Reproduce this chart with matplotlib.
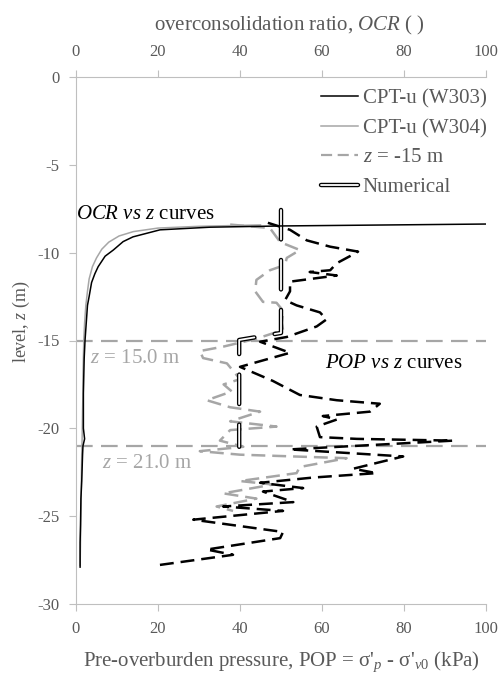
import matplotlib
matplotlib.use("Agg")
from matplotlib import pyplot as plt
from matplotlib.lines import Line2D
from matplotlib.legend_handler import HandlerTuple

plt.rcParams['font.family'] = 'Liberation Serif'
plt.rcParams['font.size'] = 15
plt.rcParams['mathtext.fontset'] = 'custom'
plt.rcParams['mathtext.rm'] = 'Liberation Serif'
plt.rcParams['mathtext.it'] = 'Liberation Serif:italic'
plt.rcParams['lines.scale_dashes'] = False
plt.rcParams['axes.unicode_minus'] = False

# OCR vs z (top axis)
ocr_w303 = [100, 49.8, 32.7, 20.5, 13.9, 11.5, 9.1, 7.1, 5.4, 4.6, 3.8, 3.2, 2.8, 2.5, 2.2,
            2.0, 1.9, 1.8, 1.8, 1.8, 2.1, 1.7, 1.6, 1.4, 1.2, 1.1, 1.0, 1.0]
z_ocr_w303 = [-8.37, -8.48, -8.55, -8.7, -9.1, -9.37, -9.85, -10.2, -10.8, -11.2, -11.7, -12.5, -13.0, -14.0, -15.0,
              -16.0, -17.0, -18.0, -19.0, -20.0, -20.6, -21.0, -21.5, -23.0, -24.0, -25.5, -26.5, -27.9]
ocr_w304 = [45, 30, 20, 14, 10.5, 8, 6.3, 5, 4, 3.2, 2.8, 2.4, 2.1, 1.9, 1.8, 1.7, 1.7, 1.6, 1.5, 1.4, 1.3, 1.2, 1.1, 1.0]
z_ocr_w304 = [-8.42, -8.5, -8.6, -8.8, -9.05, -9.4, -9.8, -10.3, -10.8, -11.5, -12.2, -13.0, -14.0, -15.0,
              -16.0, -17.0, -18.0, -19.0, -20.5, -21.5, -23.0, -25.0, -26.5, -27.8]

# POP vs z (bottom axis)
pop_w303 = [46.8, 52.2, 56.3, 62, 68.8, 66.8, 63.6, 62, 57, 63.6, 52.2, 52.2, 51, 53.8, 59.5, 61.1, 58.7, 51.4,
            44.9, 52.2, 40, 48, 54.6, 63.6, 74.1, 71.7, 60.2, 63.6, 58.7, 59.5, 68.5, 92, 52.2, 79.8, 67.6,
            73.3, 57.9, 44.9, 55.4, 45.6, 53, 35.9, 50.5, 28.6, 50.5, 49.8, 31.9, 38.3, 19.7]
z_pop_w303 = [-8.3, -8.7, -9.3, -9.66, -9.94, -10.2, -10.6, -11.0, -11.1, -11.3, -11.65, -12.2, -12.7, -13.0, -13.4,
              -13.8, -14.2, -14.8, -15.07, -15.7, -16.5, -17.3, -18.1, -18.4, -18.6, -19.05, -19.3, -19.5, -19.9,
              -20.5, -20.6, -20.7, -21.2, -21.6, -22.3, -22.55, -22.8, -23.1, -23.4, -23.6, -24.2, -24.45, -24.7,
              -25.2, -25.9, -26.25, -26.9, -27.2, -27.8]
pop_w304 = [37.6, 47.3, 49.8, 54.6, 51.4, 51, 47.3, 44, 43.7, 45.6, 48.9, 50.5, 50.2, 50.5, 44, 35.9, 30.2, 31,
            36.8, 40, 36, 38, 31.9, 37.6, 44.9, 37.6, 48.9, 37.6, 35.1, 40.8, 30.2, 40, 66, 54.6, 53.8, 40, 48,
            35.9, 44, 34.3, 38.3]
z_pop_w304 = [-8.4, -8.6, -9.4, -9.85, -10.3, -10.7, -11.0, -11.55, -12.2, -12.8, -12.85, -13.3, -14.0, -14.4,
              -14.9, -15.35, -15.6, -16.0, -16.3, -17.2, -17.5, -17.9, -18.4, -18.8, -19.05, -19.6, -19.9, -20.1,
              -20.7, -21.05, -21.3, -21.5, -21.7, -22.2, -22.55, -23.0, -23.2, -23.7, -24.0, -24.45, -24.7]

# numerical profile
pop_num = [50, 50, 39.8, 39.8]
z_num = [-7.57, -14.57, -14.97, -21.05]

z_marks = [-15, -21]

grey = '#A6A6A6'
txt = '#595959'
axc = '#BFBFBF'

fig = plt.figure(figsize=(5.01, 6.73), dpi=100)
ax = fig.add_axes([76 / 501, 1 - 604 / 673, 410 / 501, 527 / 673])

ax.plot(ocr_w304, z_ocr_w304, color=grey, lw=1.1)
for zm in z_marks:
    ax.axhline(zm, color=grey, lw=1.6, dashes=(12, 6))
ax.plot(pop_w304, z_pop_w304, color=grey, lw=1.8, dashes=(10, 5))
ax.plot(pop_w303, z_pop_w303, color='black', lw=1.8, dashes=(10, 5))
ax.plot(pop_num, z_num, color='black', lw=3.2, dashes=(21.2, 14.8), dash_capstyle='round', dash_joinstyle='round')
ax.plot(pop_num, z_num, color='white', lw=1.3, dashes=(21.2, 14.8), dash_capstyle='round', dash_joinstyle='round')
ax.plot(ocr_w303, z_ocr_w303, color='black', lw=1.1)

ax.set_xlim(0, 100)
ax.set_ylim(-30, 0)
ax.set_xticks(range(0, 101, 20))
ax.set_yticks(range(-30, 1, 5))
ax.spines['right'].set_visible(False)
for s in ['left', 'top', 'bottom']:
    ax.spines[s].set_color(axc)
ax.tick_params(axis='both', colors=axc, labelcolor=txt, length=5, pad=7, labelsize=12)
ax.tick_params(axis='x', top=True, labeltop=True)

ax.text(0, -7.85, '$OCR$ $vs$ $z$ curves', ha='left', va='center', fontsize=15)
ax.text(60.7, -16.3, '$POP$ $vs$ $z$ curves', ha='left', va='center', fontsize=15)
ax.text(3.4, -16.0, '$z$ = 15.0 m', ha='left', va='center', color=grey, fontsize=15)
ax.text(6.3, -22.0, '$z$ = 21.0 m', ha='left', va='center', color=grey, fontsize=15)

h1 = Line2D([], [], color='black', lw=1.1)
h2 = Line2D([], [], color=grey, lw=1.1)
h3 = Line2D([], [], color=grey, lw=1.6, dashes=(8, 4))
h4a = Line2D([], [], color='black', lw=3.2, solid_capstyle='round')
h4b = Line2D([], [], color='white', lw=1.3, solid_capstyle='round')
leg = ax.legend([h1, h2, h3, (h4a, h4b)], ['CPT-u (W303)', 'CPT-u (W304)', '$z$ = -15 m', 'Numerical'],
                handler_map={tuple: HandlerTuple(ndivide=1, pad=0)},
                loc='upper left', bbox_to_anchor=(0.598, 0.977), borderaxespad=0, borderpad=0,
                frameon=False, handlelength=1.75, handletextpad=0.25, labelspacing=0.47, fontsize=15)
for t in leg.get_texts():
    t.set_color(txt)

fig.text(289 / 501, 1 - 25 / 673, 'overconsolidation ratio, $OCR$ ( )', ha='center', va='center',
         color=txt, fontsize=15)
fig.text(281 / 501, 1 - 662 / 673, "Pre-overburden pressure, POP = σ'$_{p}$ - σ'$_{v0}$ (kPa)",
         ha='center', va='center', color=txt, fontsize=15)
fig.text(21 / 501, 1 - 322 / 673, 'level, $z$ (m)', rotation=90, ha='center', va='center',
         color=txt, fontsize=13)

fig.savefig('out.png', dpi=100)
